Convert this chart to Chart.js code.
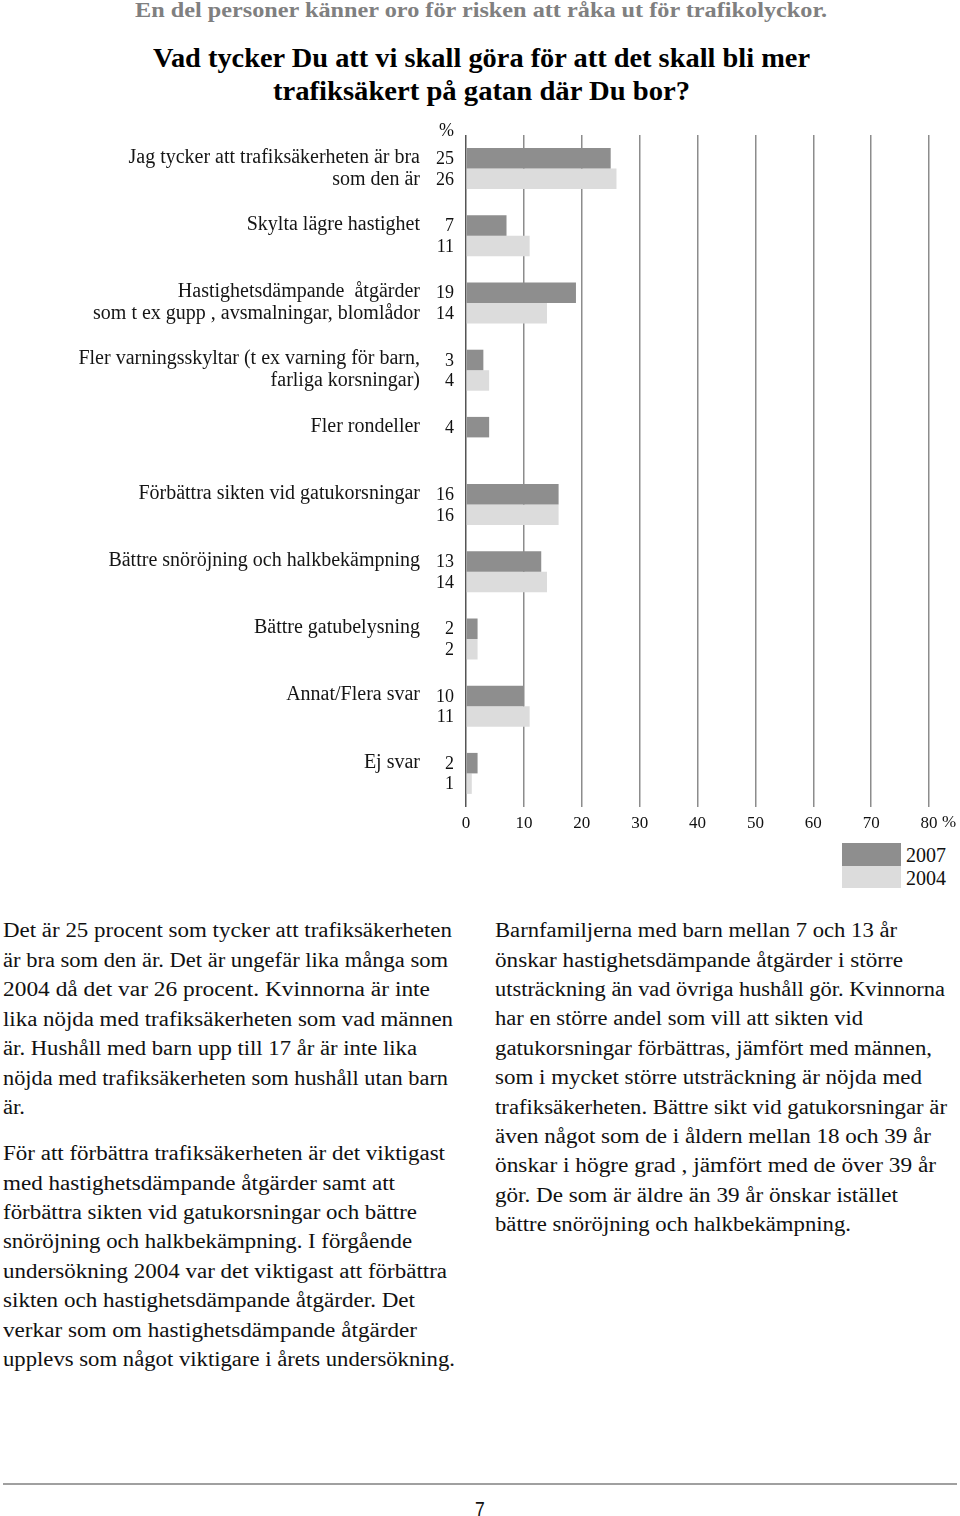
<!DOCTYPE html>
<html><head><meta charset="utf-8">
<script src="https://cdn.jsdelivr.net/npm/chart.js@4.4.1/dist/chart.umd.min.js"></script>
<style>
html,body{margin:0;padding:0;background:#fff;}
body{width:960px;height:1516px;position:relative;overflow:hidden;font-family:"Liberation Serif","Times New Roman",serif;color:#111;}
.t{position:absolute;white-space:pre;line-height:1;transform-origin:0 0;display:inline-block;}
#chartWrap{position:absolute;left:0;top:100px;width:960px;height:750px;}
.lg{position:absolute;}
</style></head>
<body>
<div id="texts"></div>
<div id="chartWrap"><canvas id="c" width="960" height="750" style="width:960px;height:750px"></canvas></div>
<div class="lg" id="lg1" style="left:842px;top:843px;width:59px;height:23px;"></div>
<div class="lg" id="lg2" style="left:842px;top:866px;width:59px;height:22px;"></div>
<div style="position:absolute;left:3px;top:1483px;width:954px;height:2px;background:#a0a0a0;"></div>
<script>
// ---- data ----
const categories = [
  ["Jag tycker att trafiksäkerheten är bra", "som den är"],
  ["Skylta lägre hastighet", ""],
  ["Hastighetsdämpande  åtgärder", "som t ex gupp , avsmalningar, blomlådor"],
  ["Fler varningsskyltar (t ex varning för barn,", "farliga korsningar)"],
  ["Fler rondeller", ""],
  ["Förbättra sikten vid gatukorsningar", ""],
  ["Bättre snöröjning och halkbekämpning", ""],
  ["Bättre gatubelysning", ""],
  ["Annat/Flera svar", ""],
  ["Ej svar", ""]
];
const seriesNames = ["2007", "2004"];
const values2007 = [25, 7, 19, 3, 4, 16, 13, 2, 10, 2];
const values2004 = [26, 11, 14, 4, null, 16, 14, 2, 11, 1];
const xTicks = [0, 10, 20, 30, 40, 50, 60, 70, 80];
const colors = ["#8e8e8e", "#dcdcdc"];

// ---- page texts (line, left, baseline, fontsize, targetWidth, weight, color) ----
const textLines = [
  ["En del personer känner oro för risken att råka ut för trafikolyckor.", 135, 18, 21, 692, "bold", "#808080"],
  ["Vad tycker Du att vi skall göra för att det skall bli mer", 153, 67, 28, 657, "bold", "#000"],
  ["trafiksäkert på gatan där Du bor?", 273, 100, 28, 417, "bold", "#000"],
  ["Det är 25 procent som tycker att trafiksäkerheten", 3, 937, 20, 449],
  ["är bra som den är. Det är ungefär lika många som", 3, 966.5, 20, 445],
  ["2004 då det var 26 procent. Kvinnorna är inte", 3, 996, 20, 427],
  ["lika nöjda med trafiksäkerheten som vad männen", 3, 1025.5, 20, 450],
  ["är. Hushåll med barn upp till 17 år är inte lika", 3, 1055, 20, 414],
  ["nöjda med trafiksäkerheten som hushåll utan barn", 3, 1084.5, 20, 445],
  ["är.", 3, 1114, 20, 22],
  ["För att förbättra trafiksäkerheten är det viktigast", 3, 1160, 20, 442],
  ["med hastighetsdämpande åtgärder samt att", 3, 1189.4, 20, 392],
  ["förbättra sikten vid gatukorsningar och bättre", 3, 1218.8, 20, 414],
  ["snöröjning och halkbekämpning. I förgående", 3, 1248.2, 20, 409],
  ["undersökning 2004 var det viktigast att förbättra", 3, 1277.6, 20, 444],
  ["sikten och hastighetsdämpande åtgärder. Det", 3, 1307, 20, 412],
  ["verkar som om hastighetsdämpande åtgärder", 3, 1336.4, 20, 414],
  ["upplevs som något viktigare i årets undersökning.", 3, 1365.8, 20, 452],
  ["Barnfamiljerna med barn mellan 7 och 13 år", 495, 937, 20, 402],
  ["önskar hastighetsdämpande åtgärder i större", 495, 966.4, 20, 408],
  ["utsträckning än vad övriga hushåll gör. Kvinnorna", 495, 995.8, 20, 450],
  ["har en större andel som vill att sikten vid", 495, 1025.2, 20, 368],
  ["gatukorsningar förbättras, jämfört med männen,", 495, 1054.6, 20, 437],
  ["som i mycket större utsträckning är nöjda med", 495, 1084, 20, 427],
  ["trafiksäkerheten. Bättre sikt vid gatukorsningar är", 495, 1113.4, 20, 452],
  ["även något som de i åldern mellan 18 och 39 år", 495, 1142.8, 20, 436],
  ["önskar i högre grad , jämfört med de över 39 år", 495, 1172.2, 20, 441],
  ["gör. De som är äldre än 39 år önskar istället", 495, 1201.6, 20, 403],
  ["bättre snöröjning och halkbekämpning.", 495, 1231, 20, 356],
  ["2007", 906, 863, 21, 40],
  ["2004", 906, 886, 21, 40]
];

const holder = document.getElementById('texts');
textLines.forEach(l => {
  const d = document.createElement('div');
  d.className = 't';
  d.textContent = l[0];
  d.style.left = l[1] + 'px';
  d.style.top = (l[2] - 0.8375 * l[3]) + 'px';
  d.style.fontSize = l[3] + 'px';
  if (l[5]) d.style.fontWeight = l[5];
  if (l[6]) d.style.color = l[6];
  holder.appendChild(d);
  const w = d.getBoundingClientRect().width;
  if (w > 0) d.style.transform = 'scaleX(' + (l[4] / w) + ')';
});
// page number
(function(){
  const d = document.createElement('div');
  d.className = 't';
  d.textContent = '7';
  d.style.fontFamily = '"Liberation Sans", Arial, sans-serif';
  d.style.fontSize = '22px';
  d.style.left = '475px';
  d.style.top = (1516 - 0.8375*22 + 1) + 'px';
  d.style.transform = 'scaleX(0.8)';
  holder.appendChild(d);
})();
document.getElementById('lg1').style.background = colors[0];
document.getElementById('lg2').style.background = colors[1];

// ---- chart ----
const valueLabels = {
  id: 'valueLabels',
  afterDatasetsDraw(chart) {
    const ctx = chart.ctx;
    const xs = chart.scales.x;
    ctx.save();
    ctx.font = '18px "Liberation Serif", serif';
    ctx.fillStyle = '#111';
    ctx.textAlign = 'right';
    ctx.textBaseline = 'middle';
    chart.data.datasets.forEach((ds, i) => {
      const meta = chart.getDatasetMeta(i);
      meta.data.forEach((el, j) => {
        const v = ds.data[j];
        if (v === null || v === undefined) return;
        ctx.fillText(String(v), 454, el.y + 1);
      });
    });
    ctx.fillText('%', 454, 31);
    ctx.font = '17px "Liberation Serif", serif';
    ctx.textAlign = 'left';
    ctx.fillText('%', xs.getPixelForValue(xTicks[xTicks.length - 1]) + 13, chart.chartArea.bottom + 16);
    ctx.restore();
  }
};

new Chart(document.getElementById('c'), {
  type: 'bar',
  data: {
    labels: categories,
    datasets: [
      { label: seriesNames[0], data: values2007, backgroundColor: colors[0], borderWidth: 0, barPercentage: 1, categoryPercentage: 0.61 },
      { label: seriesNames[1], data: values2004, backgroundColor: colors[1], borderWidth: 0, barPercentage: 1, categoryPercentage: 0.61 }
    ]
  },
  options: {
    indexAxis: 'y',
    responsive: false,
    animation: false,
    devicePixelRatio: 1,
    layout: { padding: { left: 0, right: 31, top: 35, bottom: 13 } },
    plugins: { legend: { display: false }, tooltip: { enabled: false } },
    scales: {
      x: {
        min: 0, max: 80,
        afterBuildTicks(s) { s.ticks = xTicks.map(v => ({ value: v })); },
        afterFit(s) { s.height = 30; s.paddingLeft = 0; s.paddingRight = 0; },
        ticks: { padding: 6, color: '#111', font: { family: '"Liberation Serif", serif', size: 17 }, maxRotation: 0, autoSkip: false },
        grid: { drawTicks: false, lineWidth: 1.5, color: c => (c.tick && c.tick.value === 0) ? '#555' : '#8c8c8c' },
        border: { display: false }
      },
      y: {
        afterFit(s) { s.width = 466; s.paddingTop = 0; s.paddingBottom = 0; },
        ticks: { padding: 46, color: '#151515', font: { family: '"Liberation Serif", serif', size: 20, lineHeight: 1.1 }, autoSkip: false },
        grid: { display: false, drawTicks: false },
        border: { display: false }
      }
    }
  },
  plugins: [valueLabels]
});
</script>
</body></html>
